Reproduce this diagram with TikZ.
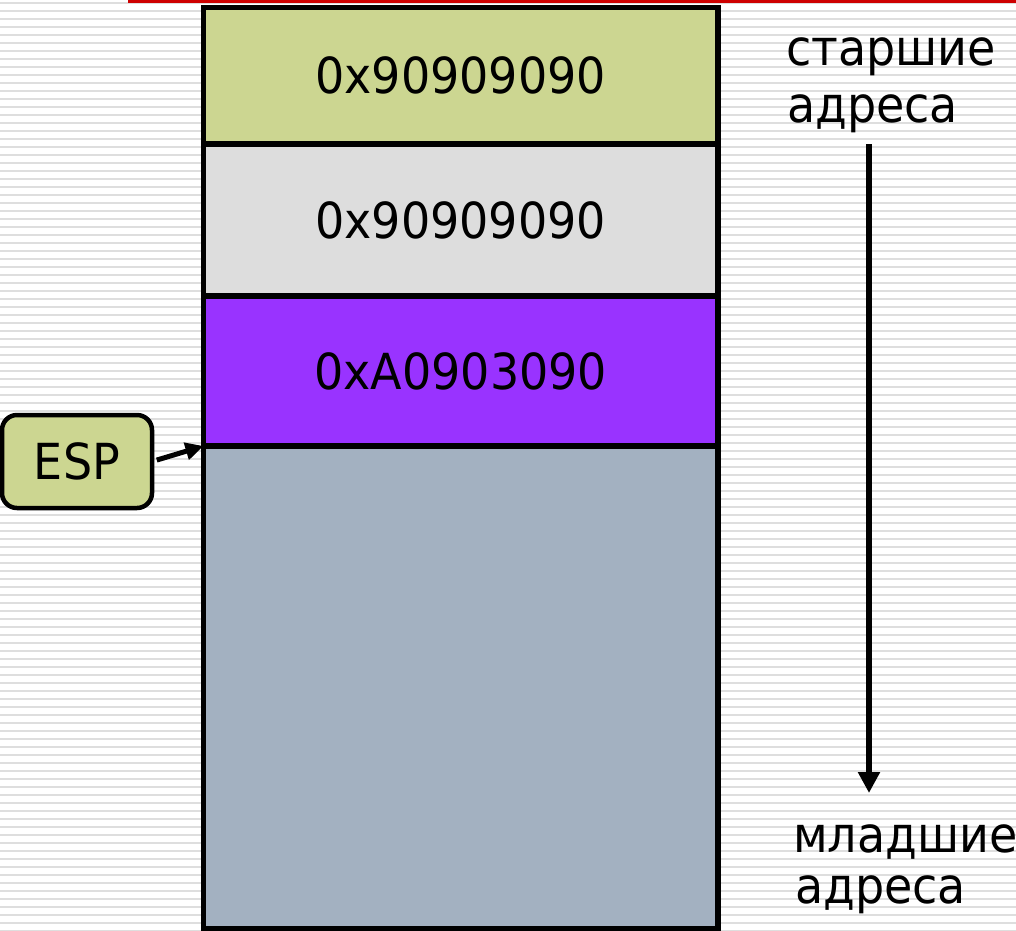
\documentclass[tikz,border=0pt]{standalone}
\usepackage{fontspec}
\usepackage{graphicx}
\setmainfont{DejaVu Sans}
\usetikzlibrary{arrows.meta}
\definecolor{cellgreen}{RGB}{204,214,145}
\definecolor{cellgray}{RGB}{221,221,221}
\definecolor{cellpurple}{RGB}{153,51,255}
\definecolor{cellblue}{RGB}{163,177,193}
\definecolor{stripegray}{RGB}{222,222,222}
\definecolor{topred}{RGB}{206,0,0}
% slightly taller lettering
\newcommand\tallify[1]{\scalebox{1}[1.08]{#1}}
\begin{document}
\begin{tikzpicture}[x=1pt,y=-1pt,
  stripe/.style={draw=stripegray, line width=1.6pt},
  bigtext/.style={font=\fontsize{46}{55}\selectfont},
  cell/.style={bigtext, draw=black, line width=5.5pt, rectangle, inner sep=0pt,
               outer sep=0pt, minimum width=514.5pt, anchor=north west},
  espbox/.style={bigtext, draw=black, fill=cellgreen, line width=4.5pt,
                 rounded corners=15pt, inner sep=0pt, outer sep=0pt,
                 minimum width=150pt, minimum height=93pt},
  lbl/.style={bigtext, inner sep=0pt, anchor=base west},
  ptr/.style={draw=black, line width=5pt,
              -{Triangle[length=18pt,width=17pt]}},
  dirptr/.style={draw=black, line width=6pt,
              -{Triangle[length=21pt,width=21pt]}}
]
\useasboundingbox (0,0) rectangle (1016,930);
\fill[white] (0,0) rectangle (1016,930);
% striped page background
\foreach \k in {0,...,116}
  \draw[stripe] (0,{3+8*\k}) -- (1016,{3+8*\k});
% red rule along the top
\fill[topred] (128,0) rectangle (1016,3);

% stack cells
\node[cell, fill=cellgreen,  minimum height=136.5pt] (c1) at (203.5,7.5) {\tallify{0x90909090}};
\node[cell, fill=cellgray,   minimum height=152pt]   (c2) at (203.5,144) {\tallify{0x90909090}};
\node[cell, fill=cellpurple, minimum height=150pt]   (c3) at (203.5,296) {\tallify{0xA0903090}};
\node[cell, fill=cellblue,   minimum height=483pt]   (c4) at (203.5,446) {};

% stack pointer
\node[espbox] (esp) at (77,461.5) {\tallify{ESP}};
\draw[ptr, shorten <=5pt] (esp.east) -- (c4.north west);

% address direction
\node[lbl] (hi1) at (786,65) {\tallify{старшие}};
\node[lbl] (hi2) at (787,122) {\tallify{адреса}};
\coordinate (dirtop) at (869,144);
\coordinate (dirbot) at (869,793);
\draw[dirptr] (dirtop) -- (dirbot);
\node[lbl] (lo1) at (793,852) {\tallify{младшие}};
\node[lbl] (lo2) at (795,903) {\tallify{адреса}};
\end{tikzpicture}
\end{document}
